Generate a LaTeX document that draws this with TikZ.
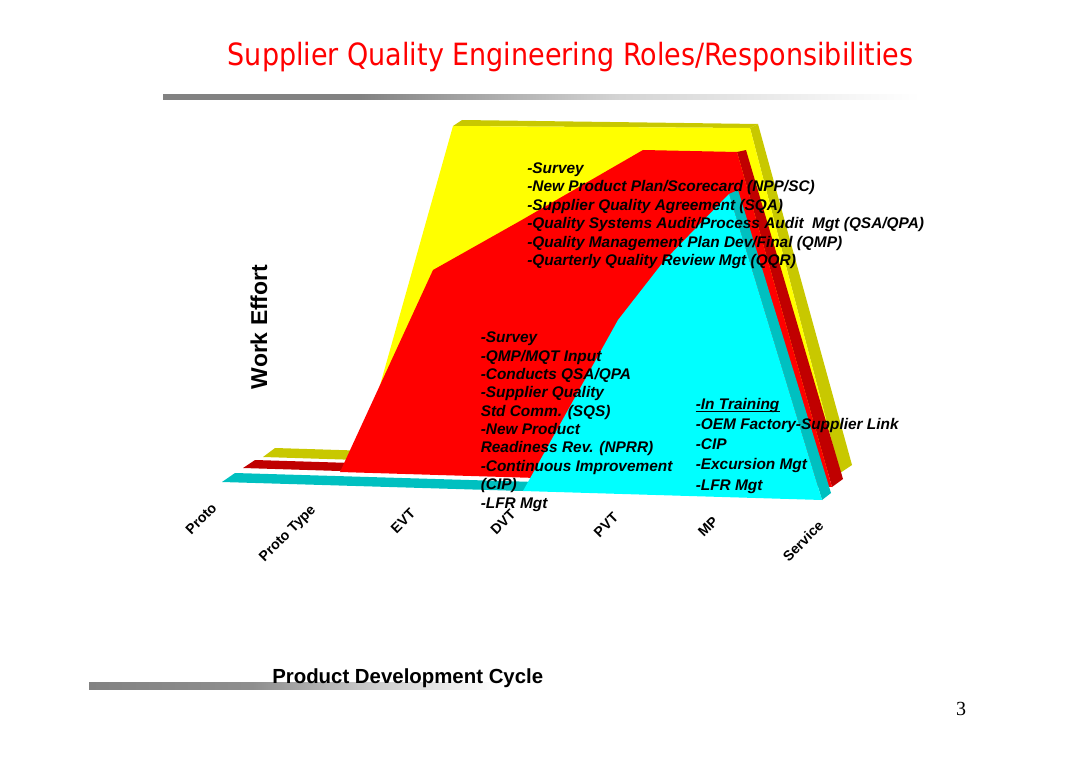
\documentclass[tikz,border=0pt]{standalone}
\usepackage{fontspec}
\setmainfont{Liberation Sans}
\newfontfamily\titlefont{DejaVu Sans}
\newfontfamily\pagefont{Liberation Serif}
\definecolor{yel}{RGB}{255,255,0}
\definecolor{olv}{RGB}{200,200,0}
\definecolor{rd}{RGB}{255,0,0}
\definecolor{drd}{RGB}{192,0,0}
\definecolor{cy}{RGB}{0,255,255}
\definecolor{tl}{RGB}{0,192,192}
\definecolor{bargray}{RGB}{130,130,130}
\pgfdeclarehorizontalshading{topbarshade}{100bp}{color(0bp)=(bargray); color(25bp)=(bargray); color(38bp)=(bargray); color(55bp)=(bargray!35); color(70bp)=(bargray!8); color(75bp)=(white); color(100bp)=(white)}
\pgfdeclarehorizontalshading{botbarshade}{100bp}{color(0bp)=(bargray); color(25bp)=(bargray); color(45bp)=(bargray!90); color(60bp)=(bargray!40); color(75bp)=(white); color(100bp)=(white)}
\begin{document}
\begin{tikzpicture}[x=0.75pt,y=-0.75pt,
  txt/.style={anchor=base west,inner sep=0pt,font=\bfseries\itshape\fontsize{11.55}{13}\selectfont},
  axlab/.style={rotate=45,inner sep=0pt,font=\bfseries\fontsize{10.6}{12}\selectfont},
  ttl/.style={anchor=base,inner sep=0pt,text=rd,font=\titlefont\fontsize{23}{26}\selectfont},
  ylab/.style={rotate=90,inner sep=0pt,font=\bfseries\fontsize{17.2}{20}\selectfont},
  xlab/.style={anchor=base west,inner sep=0pt,font=\bfseries\fontsize{15.3}{18}\selectfont}]
\useasboundingbox (0,0) rectangle (1080,763);

% title and bars
\node[ttl] (title) at (570.5,66) {\scalebox{0.88}[1]{Supplier Quality Engineering Roles/Responsibilities}};
\shade[shading=topbarshade] (163,95) rectangle (920,100);
\shade[shading=botbarshade] (89,682) rectangle (500,689);

% yellow layer
\fill[olv] (263,457) -- (275,448) -- (371,451) -- (359,460) -- cycle;
\fill[olv] (750,128) -- (840,473) -- (852,465) -- (758,124) -- cycle;
\fill[olv] (453,126) -- (462,120) -- (758,124) -- (750,128) -- cycle;
\fill[yel] (359,460) -- (453,126) -- (750,128) -- (840,473) -- cycle;

% red layer
\fill[drd] (243,468) -- (255,460) -- (352,463) -- (340,471) -- cycle;
\fill[drd] (737,152) -- (832,487) -- (843,479) -- (746,150) -- cycle;
\fill[rd] (340,472) -- (433,270) -- (520,221) -- (643,150) -- (737,152) -- (832,487) -- cycle;

% cyan layer
\fill[tl] (222,482) -- (235,473) -- (536,482) -- (523,491) -- cycle;
\fill[tl] (729,194) -- (822,500) -- (831,493) -- (738,190) -- cycle;
\fill[cy] (523,491) -- (618,320) -- (664,261) -- (729,194) -- (822,500) -- cycle;

% block 1
\foreach \t [count=\i] in {{-Survey},{-New Product Plan/Scorecard (NPP/SC)},{-Supplier Quality Agreement (SQA)},{-Quality Systems Audit/Process Audit\ \ Mgt (QSA/QPA)},{-Quality Management Plan Dev/Final (QMP)},{-Quarterly Quality Review Mgt (QQR)}}
  \node[txt] (a\i) at (527,{173+(\i-1)*18.5}) {\t};

% block 2
\foreach \t [count=\i] in {{-Survey},{-QMP/MQT Input},{-Conducts QSA/QPA},{-Supplier Quality},{Std Comm. (SQS)},{-New Product},{Readiness Rev. (NPRR)},{-Continuous Improvement},{(CIP)},{-LFR Mgt}}
  \node[txt] (b\i) at (480.5,{342.7+(\i-1)*18.37}) {\t};

% block 3
\foreach \t [count=\i] in {{-In Training},{-OEM Factory-Supplier Link},{-CIP},{-Excursion Mgt},{-LFR Mgt}}
  \node[txt] (c\i) at (695.5,{409.3+(\i-1)*20.2}) {\t};
\draw[line width=1pt] ([yshift=-1.8pt]c1.base west) -- ([yshift=-1.8pt]c1.base east);

% axes labels
\node[ylab] (ylabel) at (259,327) {Work Effort};
\node[xlab] (xlabel) at (272,683.5) {Product Development Cycle};
\node[axlab] (l1) at (201,519) {Proto};
\node[axlab] (l2) at (288,534) {Proto Type};
\node[axlab] (l3) at (403,521) {EVT};
\node[axlab] (l4) at (503,522) {DVT};
\node[axlab] (l5) at (606,525) {PVT};
\node[axlab] (l6) at (708,527) {MP};
\node[axlab] (l7) at (803,541) {Service};

\node[anchor=base,inner sep=0pt,font=\pagefont\fontsize{15}{18}\selectfont] (pg) at (961,715) {3};
\end{tikzpicture}
\end{document}
